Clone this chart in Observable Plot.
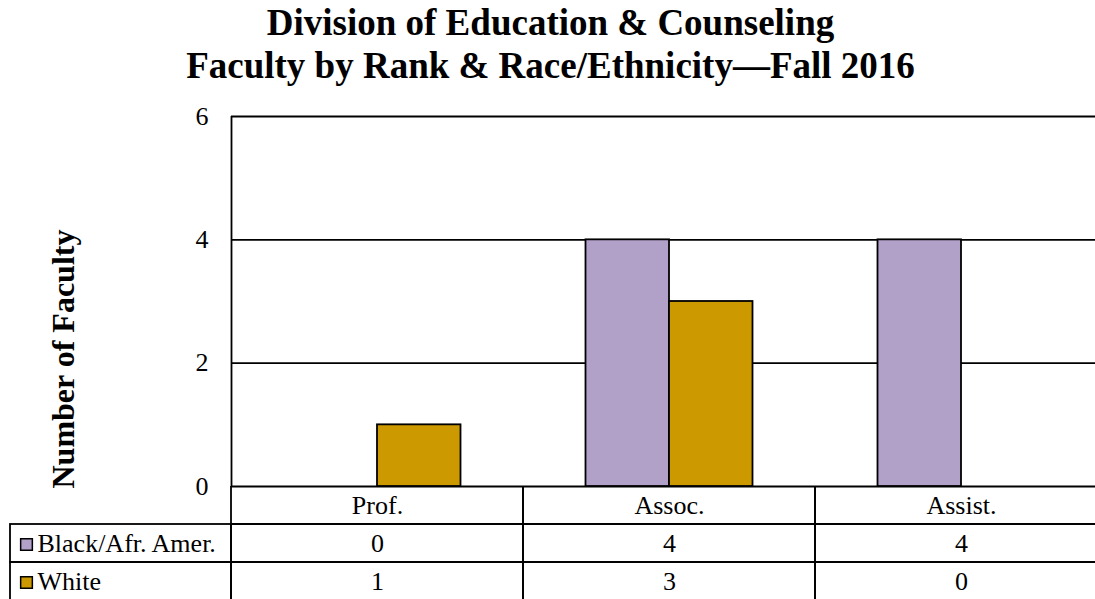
<!DOCTYPE html>
<html>
<head>
<meta charset="utf-8">
<script src="https://cdn.jsdelivr.net/npm/d3@7"></script>
<script src="https://cdn.jsdelivr.net/npm/@observablehq/plot@0.6"></script>
<style>
  html, body { margin: 0; padding: 0; background: #fff; }
  body { width: 1095px; height: 599px; overflow: hidden; font-family: "Liberation Serif", "Times New Roman", serif; }
  #title { box-sizing: border-box; height: 100px; padding-top: 1px; text-align: center; font-weight: bold; font-size: 37px; line-height: 43px; color: #000; padding-left: 6px; }
  #chart svg, #table svg { display: block; }
</style>
</head>
<body>
<div id="title"></div>
<div id="chart"></div>
<div id="table"></div>
<script>
// ---- data ----
const titleLines = ["Division of Education & Counseling", "Faculty by Rank & Race/Ethnicity\u2014Fall 2016"];
const yLabel = "Number of Faculty";
const ranks = ["Prof.", "Assoc.", "Assist."];
const seriesNames = ["Black/Afr. Amer.", "White"];
const blackValues = [0, 4, 4];
const whiteValues = [1, 3, 0];
const yTicks = [0, 2, 4, 6];
const seriesColors = ["#B1A0C7", "#CC9900"];

// ---- derived tables ----
const blackData = ranks.map((r, i) => ({rank: r, value: blackValues[i]}));
const whiteData = ranks.map((r, i) => ({rank: r, value: whiteValues[i]}));
const valueRows = [
  ...blackData.map(d => ({...d, series: seriesNames[0]})),
  ...whiteData.map(d => ({...d, series: seriesNames[1]}))
];
const headerKey = "header";
const rowDomain = [headerKey, ...seriesNames];
const gridCells = rowDomain.flatMap(row => ranks.map(r => ({rank: r, row})));

document.getElementById("title").innerHTML = titleLines.map(t => t.replace(/&/g, "&amp;")).join("<br>");

const FONT = "Liberation Serif";
const LINE = 1.8;

const chart = Plot.plot({
  width: 1095,
  height: 386,
  marginTop: 16,
  marginBottom: 0,
  marginLeft: 231,
  marginRight: 0,
  style: {fontFamily: FONT, fontSize: "26px", color: "#000", background: "transparent", overflow: "visible"},
  x: {domain: ranks, range: [231, 1107], padding: 0, axis: null},
  y: {domain: [0, 6], axis: null},
  marks: [
    Plot.ruleY(yTicks, {stroke: "#000", strokeWidth: LINE}),
    Plot.barY(blackData.filter(d => d.value > 0), {x: "rank", y: "value", fill: seriesColors[0], stroke: "#000", strokeWidth: LINE, insetLeft: 62.5, insetRight: 146}),
    Plot.barY(whiteData.filter(d => d.value > 0), {x: "rank", y: "value", fill: seriesColors[1], stroke: "#000", strokeWidth: LINE, insetLeft: 146, insetRight: 62.5}),
    Plot.ruleX([ranks[0]], {y1: 0, y2: 6, dx: -146, stroke: "#000", strokeWidth: LINE}),
    Plot.axisY(yTicks, {tickSize: 0, tickPadding: 23, fontSize: 26, label: null, tickFormat: "d"}),
    Plot.text([yLabel], {frameAnchor: "left", rotate: -90, dx: -168, dy: 187, fontSize: 32, fontWeight: "bold"})
  ]
});
document.getElementById("chart").appendChild(chart);

const table = Plot.plot({
  width: 1095,
  height: 113,
  marginTop: 0,
  marginBottom: 0,
  marginLeft: 10,
  marginRight: 0,
  style: {fontFamily: FONT, fontSize: "26px", color: "#000", background: "transparent", overflow: "hidden"},
  x: {domain: ranks, range: [231, 1107], padding: 0, axis: null},
  y: {domain: rowDomain, range: [0, 114], padding: 0, axis: null},
  marks: [
    Plot.cell(gridCells, {x: "rank", y: "row", fill: "none", stroke: "#000", strokeWidth: LINE}),
    Plot.cell(seriesNames, {x: () => ranks[0], y: d => d, fill: "none", stroke: "#000", strokeWidth: LINE, insetLeft: -221, insetRight: 292}),
    Plot.dot(seriesNames, {y: d => d, frameAnchor: "left", dx: 16, dy: 1, symbol: "square", r: 6.6, fill: (d, i) => seriesColors[i], stroke: "#000", strokeWidth: 1.5}),
    Plot.text(seriesNames, {y: d => d, frameAnchor: "left", dx: 27, textAnchor: "start", fontSize: 26}),
    Plot.text(ranks, {x: d => d, y: () => headerKey, fontSize: 26}),
    Plot.text(valueRows, {x: "rank", y: "series", text: d => String(d.value), fontSize: 26})
  ]
});
document.getElementById("table").appendChild(table);
</script>
</body>
</html>
